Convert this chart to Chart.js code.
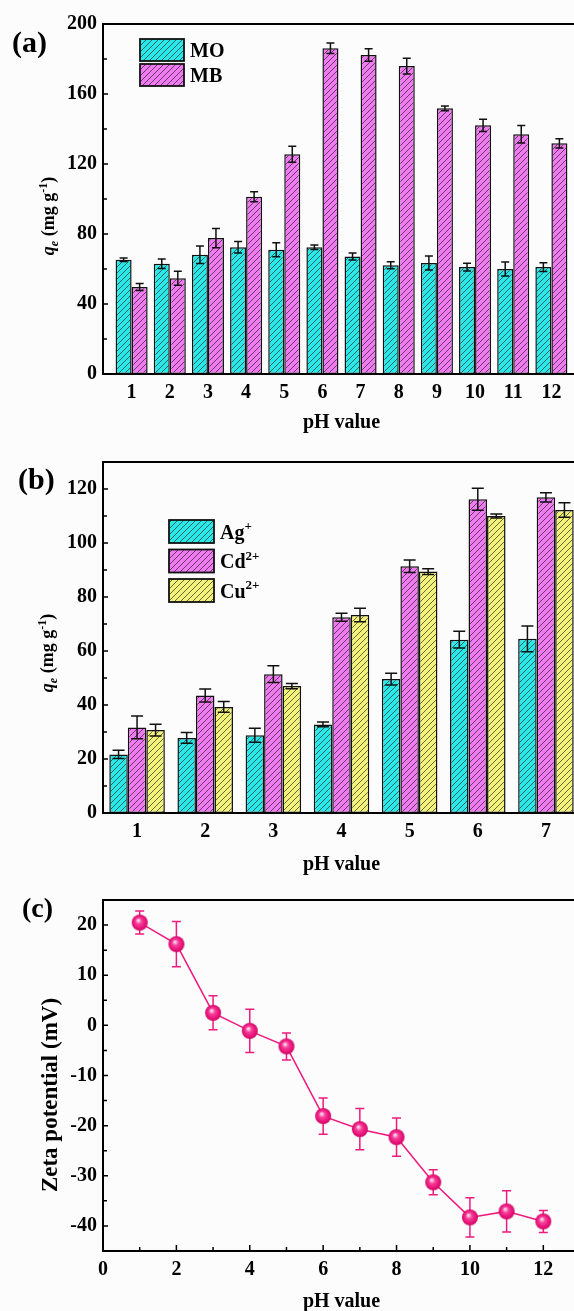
<!DOCTYPE html>
<html>
<head>
<meta charset="utf-8">
<script src="https://cdn.jsdelivr.net/npm/chart.js@4.4.0/dist/chart.umd.min.js"></script>
<style>
html,body{margin:0;padding:0;background:#fcfcfd;overflow:hidden;width:574px;height:1311px;}
canvas{position:absolute;left:0;}
</style>
</head>
<body>
<canvas id="chartA" width="600" height="440" style="top:0"></canvas>
<canvas id="chartB" width="600" height="440" style="top:440px"></canvas>
<canvas id="chartC" width="600" height="431" style="top:880px"></canvas>
<script>
// (a) dye uptake vs pH
const phA = [1,2,3,4,5,6,7,8,9,10,11,12];
const moA    = [65.3,63,68.2,72.4,71,72.4,67.2,62.1,63.4,61.1,60,61.1];
const moErrA = [1,2.7,5,3.3,4,1.3,2,2,4,2.2,4,2.5];
const mbA    = [49.7,54.7,77.7,101.3,125.6,186.1,182.3,176,151.8,142.1,137,131.8];
const mbErrA = [2,4,5.5,2.8,4.6,3,3.6,4.5,1.3,3.5,5,2.7];
const yTicksA = [0,40,80,120,160,200];

// (b) metal ion uptake vs pH
const phB = [1,2,3,4,5,6,7];
const agB    = [21.7,27.8,28.8,32.8,49.6,64.2,64.5];
const agErrB = [1.5,2,2.6,0.9,2.2,3.1,4.8];
const cdB    = [31.7,43.5,51.4,72.5,91.4,116.2,116.9];
const cdErrB = [4.2,2.4,3.1,1.5,2.3,4.1,1.7];
const cuB    = [30.7,39.3,47,73.3,89.4,110,112.2];
const cuErrB = [2.2,2,1,2.5,1.1,0.7,2.7];
const ionNames   = ['Ag','Cd','Cu'];
const ionCharges = ['+','2+','2+'];
const yTicksB = [0,20,40,60,80,100,120];

// (c) zeta potential vs pH
const phC = [1,2,3,4,5,6,7,8,9,10,11,12];
const zetaC    = [20.5,16.2,2.5,-1.1,-4.2,-18.1,-20.7,-22.3,-31.3,-38.3,-37.1,-39.1];
const zetaErrC = [2.3,4.5,3.4,4.3,2.7,3.6,4.1,3.8,2.5,3.9,4.1,2.2];
const xTicksC = [0,2,4,6,8,10,12];
const yTicksC = [-40,-30,-20,-10,0,10,20];

const SERIF = '"Liberation Serif","Times New Roman",serif';
const qeTitle = [{t:'q',it:1},{t:'e',it:1,sub:1},{t:' (mg g'},{t:'-1',sup:1},{t:')'}];

function hatch(fill){
  const s = 6, c = document.createElement('canvas');
  c.width = c.height = s;
  const g = c.getContext('2d');
  g.fillStyle = fill; g.fillRect(0,0,s,s);
  g.strokeStyle = 'rgba(25,25,25,0.8)'; g.lineWidth = 0.8;
  g.beginPath();
  g.moveTo(0,s); g.lineTo(s,0);
  g.moveTo(-1,1); g.lineTo(1,-1);
  g.moveTo(s-1,s+1); g.lineTo(s+1,s-1);
  g.stroke();
  return g.createPattern(c,'repeat');
}

function sphere(r){
  const c = document.createElement('canvas');
  c.width = c.height = 2*r+2;
  const g = c.getContext('2d');
  const cx = r+1, cy = r+1;
  const grad = g.createRadialGradient(cx-r*0.2, cy-r*0.3, r*0.05, cx, cy, r);
  grad.addColorStop(0,'#ffe8f3');
  grad.addColorStop(0.35,'#f4409a');
  grad.addColorStop(0.75,'#ec137b');
  grad.addColorStop(1,'#c70a62');
  g.fillStyle = grad;
  g.beginPath(); g.arc(cx,cy,r,0,Math.PI*2); g.fill();
  return c;
}

function runFont(r,size){
  const s = (r.sub||r.sup) ? Math.round(size*0.65) : size;
  return `${r.it?'italic ':''}bold ${s}px ${SERIF}`;
}
function runsWidth(ctx,runs,size){
  let w = 0;
  runs.forEach(r=>{ ctx.font = runFont(r,size); w += ctx.measureText(r.t).width; });
  return w;
}
function drawRuns(ctx,runs,x,y,size){
  ctx.textAlign = 'left'; ctx.textBaseline = 'alphabetic';
  runs.forEach(r=>{
    ctx.font = runFont(r,size);
    const dy = r.sub ? size*0.22 : r.sup ? -size*0.42 : 0;
    ctx.fillText(r.t,x,y+dy);
    x += ctx.measureText(r.t).width;
  });
}

function drawErrors(chart,o){
  const ctx = chart.ctx, ys = chart.scales.y;
  chart.data.datasets.forEach((ds,di)=>{
    if(!ds.errors) return;
    const meta = chart.getDatasetMeta(di);
    ctx.save();
    ctx.strokeStyle = o.errColor; ctx.lineWidth = 1.5;
    meta.data.forEach((el,i)=>{
      const v = ds.data[i].y, e = ds.errors[i], h = o.cap/2;
      const y1 = ys.getPixelForValue(v+e), y2 = ys.getPixelForValue(v-e);
      ctx.beginPath();
      ctx.moveTo(el.x,y1); ctx.lineTo(el.x,y2);
      ctx.moveTo(el.x-h,y1); ctx.lineTo(el.x+h,y1);
      ctx.moveTo(el.x-h,y2); ctx.lineTo(el.x+h,y2);
      ctx.stroke();
    });
    ctx.restore();
  });
}

const frame = {
  id:'frame',
  beforeDatasetsDraw(chart){
    const o = chart.options.plugins.frame;
    if(o.errBehind) drawErrors(chart,o);
  },
  afterDatasetsDraw(chart){
    const o = chart.options.plugins.frame;
    if(!o.errBehind) drawErrors(chart,o);
  },
  afterDraw(chart){
    const o = chart.options.plugins.frame;
    const ctx = chart.ctx, ca = chart.chartArea;
    const xs = chart.scales.x, ys = chart.scales.y;
    ctx.save();
    ctx.strokeStyle = '#000'; ctx.fillStyle = '#000';
    // inward ticks, left axis
    ctx.lineWidth = 1.5;
    const ymaj = ys.ticks.map(t=>t.value);
    ctx.beginPath();
    ymaj.forEach((v,i)=>{
      const y = ys.getPixelForValue(v);
      ctx.moveTo(ca.left,y); ctx.lineTo(ca.left+5,y);
      if(i<ymaj.length-1){
        const m = ys.getPixelForValue((v+ymaj[i+1])/2);
        ctx.moveTo(ca.left,m); ctx.lineTo(ca.left+4,m);
      }
    });
    if(o.xTicks){
      const xmaj = xs.ticks.map(t=>t.value);
      xmaj.forEach((v,i)=>{
        const x = xs.getPixelForValue(v);
        ctx.moveTo(x,ca.bottom); ctx.lineTo(x,ca.bottom-6);
        const m = xs.getPixelForValue(v+(xmaj[1]-xmaj[0])/2);
        ctx.moveTo(m,ca.bottom); ctx.lineTo(m,ca.bottom-4);
      });
    }
    ctx.stroke();
    // frame
    ctx.lineWidth = 2;
    ctx.strokeRect(ca.left,ca.top,ca.right-ca.left,ca.bottom-ca.top);
    // panel letter
    ctx.font = `bold ${o.letterSize}px ${SERIF}`;
    ctx.textAlign = 'left'; ctx.textBaseline = 'middle';
    ctx.fillText(o.letter,o.letterX,o.letterY);
    // x title
    ctx.font = `bold 20px ${SERIF}`;
    ctx.textAlign = 'center';
    ctx.fillText('pH value',(ca.left+ca.right)/2,o.xTitleY);
    // y title (rotated)
    ctx.save();
    ctx.translate(o.yTitleX,o.yTitleY);
    ctx.rotate(-Math.PI/2);
    const w = runsWidth(ctx,o.yTitle,o.yTitleSize);
    drawRuns(ctx,o.yTitle,-w/2,o.yTitleSize*0.35,o.yTitleSize);
    ctx.restore();
    // legend
    if(o.legend){
      const L = o.legend;
      chart.data.datasets.forEach((ds,i)=>{
        const y = L.y + i*L.gap;
        ctx.fillStyle = ds.backgroundColor;
        ctx.fillRect(L.x,y,L.w,L.h);
        ctx.lineWidth = 1.8; ctx.strokeStyle = '#111';
        ctx.strokeRect(L.x,y,L.w,L.h);
        ctx.fillStyle = '#000';
        const runs = [{t:ds.label}];
        if(ds.sup) runs.push({t:ds.sup,sup:1});
        drawRuns(ctx,runs,L.x+L.w+6,y+L.h/2+7,20);
      });
    }
    ctx.restore();
  }
};

const tickFont = {family:SERIF,size:20,weight:'bold'};

function barScales(xTicks,xMin,xMax,yTicks,yMax,xH){
  return {
    x:{
      type:'linear', min:xMin, max:xMax, offset:false,
      grid:{display:false,drawTicks:false}, border:{display:false},
      ticks:{font:tickFont,color:'#000',padding:7},
      afterBuildTicks:s=>{ s.ticks = xTicks.map(v=>({value:v})); },
      afterFit:s=>{ s.height = xH; }
    },
    y:{
      min:0, max:yMax,
      grid:{display:false,drawTicks:false}, border:{display:false},
      ticks:{font:tickFont,color:'#000',padding:6},
      afterBuildTicks:s=>{ s.ticks = yTicks.map(v=>({value:v})); },
      afterFit:s=>{ s.width = 103; }
    }
  };
}

function barSet(label,xs,ys,errs,fill,sup){
  return {
    label, sup,
    data: xs.map((x,i)=>({x,y:ys[i]})),
    errors: errs,
    backgroundColor: hatch(fill),
    borderColor:'#111', borderWidth:1.5, borderSkipped:false
  };
}

Chart.defaults.animation = false;

new Chart(document.getElementById('chartA'),{
  type:'bar',
  data:{datasets:[
    {...barSet('MO',phA,moA,moErrA,'#2ae8e8'),categoryPercentage:0.84,barPercentage:1},
    {...barSet('MB',phA,mbA,mbErrA,'#f07af0'),categoryPercentage:0.84,barPercentage:1}
  ]},
  plugins:[frame],
  options:{
    responsive:false,
    layout:{padding:{left:0,right:20,top:24,bottom:0}},
    scales:barScales(phA,0.25,12.75,yTicksA,200,66),
    plugins:{
      legend:{display:false}, tooltip:{enabled:false},
      frame:{
        letter:'(a)', letterX:12, letterY:44, letterSize:30,
        xTitleY:423, yTitle:qeTitle, yTitleX:48, yTitleY:216, yTitleSize:18,
        errColor:'#111', cap:8,
        legend:{x:140,y:39,w:44,h:22,gap:25}
      }
    }
  }
});

new Chart(document.getElementById('chartB'),{
  type:'bar',
  data:{datasets:[
    {...barSet(ionNames[0],phB,agB,agErrB,'#2ae8e8',ionCharges[0]),categoryPercentage:0.815,barPercentage:1},
    {...barSet(ionNames[1],phB,cdB,cdErrB,'#f07af0',ionCharges[1]),categoryPercentage:0.815,barPercentage:1},
    {...barSet(ionNames[2],phB,cuB,cuErrB,'#f2f27a',ionCharges[2]),categoryPercentage:0.815,barPercentage:1}
  ]},
  plugins:[frame],
  options:{
    responsive:false,
    layout:{padding:{left:0,right:20,top:22,bottom:0}},
    scales:barScales(phB,0.5,7.5,yTicksB,130,67),
    plugins:{
      legend:{display:false}, tooltip:{enabled:false},
      frame:{
        letter:'(b)', letterX:18, letterY:41, letterSize:30,
        xTitleY:425, yTitle:qeTitle, yTitleX:47, yTitleY:213, yTitleSize:18,
        errColor:'#111', cap:12,
        legend:{x:169,y:80,w:45,h:23,gap:29.5}
      }
    }
  }
});

new Chart(document.getElementById('chartC'),{
  type:'line',
  data:{datasets:[{
    label:'Zeta potential',
    data: phC.map((x,i)=>({x,y:zetaC[i]})),
    errors: zetaErrC,
    borderColor:'#ee1a7e', borderWidth:1.5, tension:0,
    pointStyle: sphere(8), pointRadius:8
  }]},
  plugins:[frame],
  options:{
    responsive:false,
    layout:{padding:{left:0,right:20,top:20,bottom:0}},
    scales:{
      x:{
        type:'linear', min:0, max:13,
        grid:{display:false,drawTicks:false}, border:{display:false},
        ticks:{font:tickFont,color:'#000',padding:7},
        afterBuildTicks:s=>{ s.ticks = xTicksC.map(v=>({value:v})); },
        afterFit:s=>{ s.height = 60; }
      },
      y:{
        min:-45, max:25,
        grid:{display:false,drawTicks:false}, border:{display:false},
        ticks:{font:tickFont,color:'#000',padding:6},
        afterBuildTicks:s=>{ s.ticks = yTicksC.map(v=>({value:v})); },
        afterFit:s=>{ s.width = 103; }
      }
    },
    plugins:{
      legend:{display:false}, tooltip:{enabled:false},
      frame:{
        letter:'(c)', letterX:22, letterY:30, letterSize:28,
        xTitleY:422, yTitle:[{t:'Zeta potential (mV)'}], yTitleX:49, yTitleY:215, yTitleSize:23,
        errColor:'#ee1a7e', cap:9, errBehind:true, xTicks:true
      }
    }
  }
});
</script>
</body>
</html>
